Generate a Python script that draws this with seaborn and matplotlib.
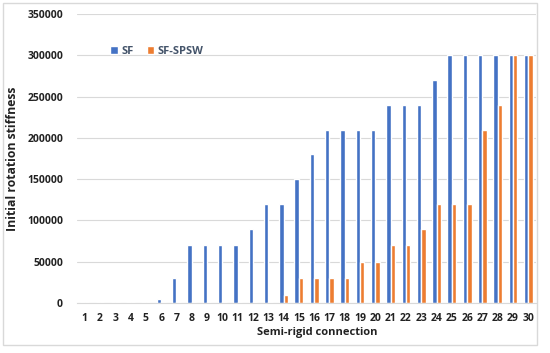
import matplotlib
matplotlib.use("Agg")
import matplotlib.pyplot as plt
import seaborn as sns
import pandas as pd
import numpy as np

connections = [str(i) for i in range(1, 31)]
sf = [800, 800, 800, 800, 800, 5000, 30000, 70000, 70000, 70000, 70000, 90000,
      120000, 120000, 150000, 180000, 210000, 210000, 210000, 210000, 240000,
      240000, 240000, 270000, 300000, 300000, 300000, 300000, 300000, 300000]
sf_spsw = [800, 800, 800, 800, 800, 800, 800, 800, 800, 800, 800, 800, 800,
           10000, 30000, 30000, 30000, 30000, 50000, 50000, 70000, 70000, 90000,
           120000, 120000, 120000, 210000, 240000, 300000, 300000]
series = ["SF", "SF-SPSW"]
colors = ["#4472C4", "#ED7D31"]

df = pd.DataFrame({
    "Semi-rigid connection": connections * 2,
    "value": sf + sf_spsw,
    "series": [series[0]] * 30 + [series[1]] * 30,
})

sns.set_style("white")
plt.rcParams["font.family"] = ["Open Sans", "DejaVu Sans"]

fig = plt.figure(figsize=(5.5, 3.53), dpi=100)
ax = fig.add_axes([77/550, 1 - 303/353, (536-77)/550, (303-14)/353])

sns.barplot(data=df, x="Semi-rigid connection", y="value", hue="series",
            palette=colors, width=0.58, gap=0.0, ax=ax, saturation=1,
            order=connections, hue_order=series)

ax.set_ylim(0, 350000)
ax.set_xlim(-0.5, 29.5)
ax.set_yticks(np.arange(0, 350001, 50000))
ax.set_yticklabels([str(v) for v in range(0, 350001, 50000)],
                   fontsize=7.5, fontweight="bold", color="#222222")
ax.grid(axis="y", color="#D9D9D9", linewidth=0.8)
ax.set_axisbelow(True)
for s in ["top", "right", "left"]:
    ax.spines[s].set_visible(False)
ax.spines["bottom"].set_color("#D9D9D9")
ax.tick_params(axis="y", length=0, pad=10)
ax.tick_params(axis="x", length=0, pad=7, labelsize=7.5)
for t in ax.get_xticklabels():
    t.set_fontweight("bold")
    t.set_color("#222222")
# category boundary tick marks
ax.set_xticks(np.arange(-0.5, 30, 1), minor=True)
ax.tick_params(axis="x", which="minor", length=4, color="#D9D9D9", width=0.8)

ax.set_xlabel("Semi-rigid connection", fontsize=8, fontweight="bold",
              color="#222222", labelpad=2, x=0.523)
ax.set_ylabel("Initial rotation stiffness", fontsize=8.8, fontweight="bold",
              color="#222222", labelpad=6)

leg = ax.legend(loc="upper left", bbox_to_anchor=(0.05, 0.925), ncol=2,
                frameon=False, fontsize=8, handlelength=0.7, handleheight=0.7,
                columnspacing=1.2, handletextpad=0.3)
for t in leg.get_texts():
    t.set_fontweight("bold")
    t.set_color("#44546A")

# outer border
fig.patches.append(plt.Rectangle((3/550, 1 - 345/353), 534/550, 342/353,
                                 transform=fig.transFigure, fill=False,
                                 edgecolor="#D9D9D9", linewidth=1))

fig.savefig("out.png", dpi=100)
